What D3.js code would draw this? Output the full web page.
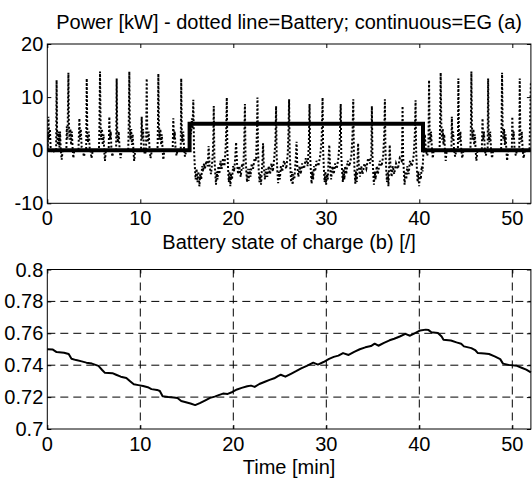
<!DOCTYPE html>
<html><head><meta charset="utf-8">
<script src="https://cdn.jsdelivr.net/npm/d3@7"></script>
<style>
html,body{margin:0;padding:0;background:#fff;}
svg{display:block;font-family:"Liberation Sans",Arial,Helvetica,sans-serif;}
</style></head>
<body>
<svg id="chart" width="532" height="480"></svg>
<script>
// ---------------- DATA ----------------
const xTicks = [0, 10, 20, 30, 40, 50];
const powerTicks = [-10, 0, 10, 20];
const socTicks = [0.7, 0.72, 0.74, 0.76, 0.78, 0.8];
const socTickLabels = ["0.7", "0.72", "0.74", "0.76", "0.78", "0.8"];

const title1 = "Power [kW] - dotted line=Battery; continuous=EG (a)";
const title2 = "Battery state of charge (b) [/]";
const xLabel = "Time [min]";

// Electrical generator (EG) power, step profile
const egTime  = [0, 15.3, 15.3, 40.4, 40.4, 52];
const egPower = [0, 0, 5, 5, 0, 0];

// Battery power (dotted)
const batteryTime = [
0.00,0.05,0.12,0.20,0.28,0.36,0.45,0.60,0.75,0.95,1.00,1.05,1.12,1.20,1.30,1.37,1.45,1.55,1.65,2.05,
2.10,2.15,2.20,2.27,2.32,2.40,2.48,2.56,2.64,2.72,2.80,2.90,3.35,3.45,3.52,3.60,3.70,3.80,3.95,4.05,
4.18,4.24,4.30,4.38,4.46,4.55,4.65,4.75,4.90,5.55,5.60,5.67,5.73,5.80,5.88,5.96,6.05,6.12,6.20,6.30,
6.60,6.67,6.74,6.82,6.90,7.00,7.10,7.40,7.46,7.52,7.60,7.68,7.78,7.88,8.00,8.70,8.76,8.82,8.88,8.95,
9.02,9.10,9.18,9.26,9.34,9.45,10.08,10.15,10.22,10.30,10.40,10.50,10.62,10.69,10.75,10.82,10.90,11.00,11.10,11.25,
11.85,11.90,11.94,12.00,12.08,12.16,12.24,12.32,12.40,12.48,12.58,13.48,13.55,13.62,13.70,13.80,13.90,14.00,14.35,14.40,
14.46,14.54,14.62,14.70,14.80,14.95,15.30,15.35,15.45,15.55,15.62,15.70,15.78,15.86,15.95,16.05,16.15,16.25,16.35,16.45,
16.55,16.65,16.75,16.85,16.95,17.10,17.25,17.35,17.45,17.60,17.72,17.80,17.86,17.90,17.96,18.05,18.14,18.22,18.30,18.40,
18.50,18.62,18.75,18.90,19.05,19.18,19.24,19.30,19.36,19.44,19.52,19.60,19.68,19.76,19.86,19.98,20.10,20.22,20.30,20.40,
20.52,20.65,20.80,20.95,21.08,21.18,21.25,21.31,21.40,21.48,21.56,21.64,21.74,21.85,21.98,22.12,22.30,22.45,22.54,22.60,
22.66,22.74,22.82,22.90,22.98,23.06,23.14,23.20,23.28,23.40,23.52,23.65,23.80,23.95,24.10,24.25,24.40,24.54,24.60,24.66,
24.74,24.82,24.90,25.00,25.12,25.25,25.45,25.70,25.86,25.94,26.00,26.06,26.14,26.22,26.30,26.38,26.46,26.56,26.66,26.74,
26.80,26.88,27.00,27.12,27.25,27.40,27.60,27.80,28.00,28.12,28.20,28.26,28.34,28.42,28.50,28.58,28.68,28.80,28.95,29.15,
29.35,29.50,29.60,29.66,29.74,29.82,29.90,29.98,30.06,30.16,30.26,30.32,30.40,30.52,30.65,30.80,30.95,31.12,31.30,31.45,
31.55,31.61,31.70,31.78,31.86,31.94,32.04,32.15,32.30,32.50,32.70,32.82,32.90,32.96,33.04,33.12,33.20,33.28,33.36,33.42,
33.50,33.62,33.75,33.90,34.10,34.30,34.50,34.70,34.84,34.90,34.96,35.04,35.12,35.20,35.30,35.42,35.55,35.75,35.95,36.12,
36.24,36.30,36.36,36.44,36.52,36.60,36.68,36.76,36.82,36.90,37.02,37.15,37.30,37.50,37.70,37.90,38.10,38.16,38.20,38.26,
38.34,38.42,38.50,38.60,38.70,38.85,39.00,39.20,39.40,39.52,39.60,39.66,39.74,39.82,39.90,39.98,40.06,40.16,40.26,40.35,
40.42,40.50,40.60,40.70,40.85,40.98,41.05,41.11,41.18,41.26,41.35,41.45,41.55,42.18,42.24,42.30,42.36,42.44,42.52,42.60,
42.68,42.76,42.84,42.95,43.45,43.50,43.56,43.64,43.74,43.85,43.98,44.15,44.20,44.26,44.34,44.42,44.52,44.62,44.75,45.50,
45.55,45.60,45.66,45.74,45.82,45.90,45.98,46.06,46.14,46.25,46.72,46.80,46.87,46.95,47.05,47.15,47.28,47.35,47.40,47.46,
47.54,47.62,47.72,47.82,47.95,48.80,48.85,48.90,48.96,49.04,49.12,49.20,49.28,49.36,49.44,49.55,49.95,50.00,50.07,50.15,
50.25,50.38,50.50,50.75,50.80,50.86,50.94,51.02,51.12,51.22,51.35,51.85,51.92,52.00
];
const batteryPower = [
3,0,6.3,2,4,0.5,0,-0.5,0,0,13.2,3.5,1,3.5,0.5,3.5,0,-1.8,0,0,
4.5,2,5,14.6,5,2,4,1,3.5,0.5,-1.5,0,0,6.0,2,4,0.5,0,-1.2,0,
0,13.5,3,1.5,3.5,0.5,0,-1.5,0,0,4,14.8,4.5,2,4,1,3,0,-2,0,
0,6.3,2,3.5,0,-1.2,0,0,13.5,3,1.5,3.5,0,-1.5,0,0,5,14.8,4,2,
4,1,3,0,-2,0,0,6.3,2,4,0,-0.8,0,13.5,3,1.5,3.5,0,-1.5,0,
0,5,14.4,5,2,4,1,3,0,-1.8,0,0,6.0,2,3.5,0,-1,0,0,13.5,
3,1.5,3.5,0.5,-1.2,0,0,5,3,6,4,9.5,0,-3,-5.5,-3.5,-6,-4,-6.8,-4.5,
-5.5,-3,-4,-2.5,-3.5,-2,-3,0.8,-3,-4.5,-2.5,-0.5,3,8.3,-1,-4,-6.5,-4,-5.5,-3,
-4.5,-2,-3.5,-1.5,-3,0.5,4,9.9,0,-3.5,-6,-4,-6.8,-4.5,-5.5,-3,-4,-1,1.5,-2.5,
-4.5,-3,-5,-2.5,-3.5,2,8.7,-1,-4,-6,-3.5,-5.8,-3.5,-5,-2.5,-3.5,-1.5,-2,3.5,9.9,
0,-4,-6,-4.5,-6.5,-4,-2,1.3,-3,-5.5,-3.5,-5,-3,-4.5,-2.5,-4,-1.5,2,8.3,-1,
-4,-6.2,-4,-5.5,-3,-4,-2,-3.5,-0.5,4,9.6,0,-3.5,-6,-4,-6.5,-4.5,-5.5,-3,-1,
1.6,-3,-5,-3,-4.5,-2.5,-3.5,-1.5,-3,1,8.7,-1,-4,-6.3,-4,-5.5,-3,-4,-2,-3,
-1,2,9.9,0,-3.5,-6,-4,-6.5,-4.5,-5.5,-1,1.0,-3,-5.5,-3,-4.5,-2.5,-3.5,-1.5,2,
8.7,-1,-4,-6,-3.5,-5.5,-3,-4.5,-2,-3,-1,3,9.6,0,-4,-6.3,-4,-6,-2,1.3,
-3,-5,-3,-4.5,-2.5,-3.5,-1.5,-2.5,-1,8.3,-1,-4,-6.5,-4,-5.5,-3,-4.5,-2,-3,-1,
3.5,9.6,0,-3.5,-6,-4,-6.8,-3,1.0,-3,-5,-3,-4.5,-2.5,-3.5,-1.5,-2,2,8.3,-1,
-4,-6.5,-4,-5.5,-3,-4.5,-2,-3,-1,3,9.4,0,-3.5,-6,-4,-6.8,-4.5,-5.5,-3,-4,
-1,0,3,0,-1,0,13.2,3.5,1.5,3.5,0.5,-1.5,0,0,5,14.6,5,2,4,1,
3,0,-2,0,0,6.3,2,3.5,0,-1.2,0,0,13.5,3,1.5,3.5,0,-1.5,0,0,
5,14.8,4.5,2,4,1,3,0,-2,0,0,6.0,2,3.5,0,-1,0,0,13.5,3,
1.5,3.5,0,-1.5,0,0,5,14.6,4.5,2,4,1,3,0,-2,0,0,6.3,2,3.5,
0,-1,0,0,13.5,3,1.5,3.5,0,-1.5,0,0,6,13
];

// Battery state of charge
const socTime = [
0,0.6,1.0,1.8,2.3,2.6,3.1,3.7,4.2,4.8,5.5,5.9,6.2,7.0,7.4,7.9,8.5,8.9,9.3,9.8,
10.3,10.8,11.2,11.8,12.1,12.4,13.0,13.6,14.0,14.4,14.9,15.4,15.9,16.4,17.0,17.5,18.0,18.5,18.9,19.4,
19.9,20.4,20.9,21.5,21.9,22.3,22.8,23.4,23.9,24.4,24.8,25.1,25.6,26.2,26.8,27.3,27.9,28.6,29.1,29.7,
30.3,30.8,31.3,31.8,32.4,33.0,33.6,34.2,34.8,35.2,35.6,36.2,36.8,37.3,37.9,38.5,39.0,39.6,40.1,40.7,
41.0,41.3,42.0,42.4,42.6,43.4,44.0,44.5,44.8,45.6,46.0,46.3,47.0,47.5,48.1,48.7,49.0,49.6,50.5,51.0,
51.5,52.0
];
const socValue = [
0.7500,0.7498,0.7482,0.7478,0.7470,0.7440,0.7432,0.7424,0.7416,0.7410,0.7396,0.7370,0.7352,0.7350,0.7340,0.7328,0.7320,0.7300,0.7280,0.7275,
0.7270,0.7262,0.7250,0.7245,0.7238,0.7205,0.7200,0.7198,0.7194,0.7175,0.7168,0.7160,0.7150,0.7162,0.7180,0.7195,0.7203,0.7214,0.7222,0.7220,
0.7232,0.7248,0.7258,0.7268,0.7272,0.7264,0.7282,0.7296,0.7308,0.7318,0.7332,0.7340,0.7328,0.7346,0.7364,0.7380,0.7396,0.7416,0.7404,0.7420,
0.7440,0.7452,0.7460,0.7476,0.7464,0.7484,0.7500,0.7512,0.7520,0.7535,0.7522,0.7540,0.7556,0.7566,0.7580,0.7596,0.7585,0.7603,0.7618,0.7623,
0.7620,0.7607,0.7602,0.7580,0.7560,0.7555,0.7543,0.7535,0.7518,0.7507,0.7495,0.7476,0.7474,0.7470,0.7455,0.7438,0.7410,0.7402,0.7396,0.7384,
0.7372,0.7355
];

// ---------------- DRAW ----------------
const svg = d3.select("#chart");
const FONT = 20;
const left = 47.3, right = 530.9;
const pTop = 44, pBot = 203.3, sTop = 269.5, sBot = 429;

const x = d3.scaleLinear().domain([0, 52]).range([left, right]);
const yP = d3.scaleLinear().domain([-10, 20]).range([pBot, pTop]);
const yS = d3.scaleLinear().domain([0.7, 0.8]).range([sBot, sTop]);

function innerTicks(g, y, top, bottom, yVals) {
  g.append("g").attr("transform", `translate(0,${bottom})`)
    .call(d3.axisBottom(x).tickValues(xTicks).tickSize(-4).tickFormat(""))
    .call(a => a.select(".domain").remove());
  g.append("g").attr("transform", `translate(0,${top})`)
    .call(d3.axisTop(x).tickValues(xTicks).tickSize(-4).tickFormat(""))
    .call(a => a.select(".domain").remove());
  g.append("g").attr("transform", `translate(${left},0)`)
    .call(d3.axisLeft(y).tickValues(yVals).tickSize(-4).tickFormat(""))
    .call(a => a.select(".domain").remove());
  g.append("g").attr("transform", `translate(${right},0)`)
    .call(d3.axisRight(y).tickValues(yVals).tickSize(-4).tickFormat(""))
    .call(a => a.select(".domain").remove());
  g.selectAll(".tick line").attr("stroke", "#000");
}

// ---- Top plot ----
const gTop = svg.append("g");
innerTicks(gTop, yP, pTop, pBot, powerTicks);

svg.append("clipPath").attr("id", "c1").append("rect")
  .attr("x", left).attr("y", pTop).attr("width", right - left).attr("height", pBot - pTop);

const batPts = batteryTime.map((t, i) => [t, batteryPower[i]]);
const egPts = egTime.map((t, i) => [t, egPower[i]]);

svg.append("path").attr("clip-path", "url(#c1)")
  .datum(batPts)
  .attr("d", d3.line().x(d => x(d[0])).y(d => yP(d[1])))
  .attr("fill", "none").attr("stroke", "#000")
  .attr("stroke-width", 2).attr("stroke-dasharray", "2,2");

svg.append("path").attr("clip-path", "url(#c1)")
  .datum(egPts)
  .attr("d", d3.line().x(d => x(d[0])).y(d => yP(d[1])))
  .attr("fill", "none").attr("stroke", "#000")
  .attr("stroke-width", 4).attr("stroke-linejoin", "miter");

svg.append("rect").attr("x", left).attr("y", pTop).attr("width", right - left).attr("height", pBot - pTop)
  .attr("fill", "none").attr("stroke", "#000").attr("stroke-width", 1);

svg.append("g").selectAll("text").data(powerTicks).join("text")
  .attr("x", left - 4).attr("y", d => yP(d) + 7)
  .attr("text-anchor", "end").attr("font-size", FONT).text(d => d);
svg.append("g").selectAll("text").data(xTicks).join("text")
  .attr("x", d => x(d)).attr("y", 225)
  .attr("text-anchor", "middle").attr("font-size", FONT).text(d => d);

svg.append("text").attr("x", (left + right) / 2).attr("y", 29)
  .attr("text-anchor", "middle").attr("font-size", FONT).text(title1);

// ---- Bottom plot ----
const gB = svg.append("g");
gB.append("g").selectAll("line").data(xTicks.filter(d => d > 0)).join("line")
  .attr("x1", d => x(d)).attr("x2", d => x(d)).attr("y1", sTop).attr("y2", sBot)
  .attr("stroke", "#000").attr("stroke-width", 1).attr("stroke-dasharray", "8,5");
gB.append("g").selectAll("line").data(socTicks.filter(d => d > 0.7 && d < 0.8)).join("line")
  .attr("x1", left).attr("x2", right).attr("y1", d => yS(d)).attr("y2", d => yS(d))
  .attr("stroke", "#000").attr("stroke-width", 1).attr("stroke-dasharray", "8,5");
innerTicks(gB, yS, sTop, sBot, socTicks);

const socPts = socTime.map((t, i) => [t, socValue[i]]);
svg.append("path").datum(socPts)
  .attr("d", d3.line().x(d => x(d[0])).y(d => yS(d[1])))
  .attr("fill", "none").attr("stroke", "#000").attr("stroke-width", 2)
  .attr("stroke-linejoin", "round");

svg.append("rect").attr("x", left).attr("y", sTop).attr("width", right - left).attr("height", sBot - sTop)
  .attr("fill", "none").attr("stroke", "#000").attr("stroke-width", 1);

svg.append("g").selectAll("text").data(socTicks).join("text")
  .attr("x", left - 4).attr("y", d => yS(d) + 7)
  .attr("text-anchor", "end").attr("font-size", FONT).text((d, i) => socTickLabels[i]);
svg.append("g").selectAll("text").data(xTicks).join("text")
  .attr("x", d => x(d)).attr("y", 451)
  .attr("text-anchor", "middle").attr("font-size", FONT).text(d => d);

svg.append("text").attr("x", (left + right) / 2).attr("y", 249)
  .attr("text-anchor", "middle").attr("font-size", FONT).text(title2);
svg.append("text").attr("x", (left + right) / 2).attr("y", 474)
  .attr("text-anchor", "middle").attr("font-size", FONT).text(xLabel);
</script>
</body></html>
